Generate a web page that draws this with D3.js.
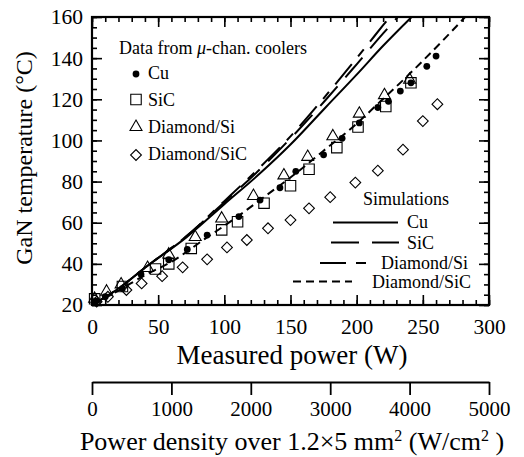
<!DOCTYPE html>
<html>
<head>
<meta charset="utf-8">
<script src="https://cdn.jsdelivr.net/npm/d3@7"></script>
<style>
  body { margin: 0; background: #fff; }
  svg { display: block; font-family: "Liberation Serif", "Times New Roman", serif; }
</style>
</head>
<body>
<div id="chart"></div>
<script>
// measured data (power W, GaN temperature C)
const cuData = [[3,22],[10,24],[23,28],[37,35],[58,42],[72,47],[87,54],[111,63],[127,71],[142,77],[154,85],[175,93],[189,101],[202,108.5],[216,116],[224,119],[233,124],[241,128],[253,136],[260,141]];
const sicData = [[2,23],[23,29],[48,37.5],[58,40],[75,47.5],[98,56.5],[110,60.5],[130,69.5],[150,78],[164,86],[185,96.5],[201,106.5],[222,116.5],[241,128]];
const diaSiData = [[2,23],[11,26.5],[22,30],[42,38],[58,44.5],[78,53],[98,62],[122,73],[145,83],[163,92],[182,102],[202,113],[221,122],[240,129.5]];
const diaSicData = [[3.5,21.6],[12,24],[26,27.3],[37.5,30.5],[53,34],[68.5,38.3],[87,42.2],[102,48],[117,51.6],[133,57.3],[150,61.3],[164,67],[180,72.4],[199,79.5],[216,85.3],[235,95.5],[250,109.4],[261,117.6]];

// simulation curves
const cuSim = [[0,20],[20,28],[41,38.6],[71.5,53],[100,69],[127,84],[150,98],[177,116.4],[200,132],[220,146],[241.5,160]];
const sicSim = [[0,20],[20,28],[41,38.6],[71.5,53.5],[100,70],[127,86],[150,101],[177,120],[200,137],[220,152],[231,160]];
const diaSiSim = [[0,20],[20,28],[41,38.6],[71.5,53.5],[100,70.5],[127,87],[150,102],[177,122],[200,140],[220,156],[225,160]];
const diaSicSim = [[0,20],[20,27],[40,34.5],[60,41],[85,52],[110,63],[130,72.5],[155,84.5],[175,95],[198,107],[218,119],[237,130.5],[252,140],[265,148.5],[282,160]];

const powerTicks = [0, 50, 100, 150, 200, 250, 300];
const tempTicks = [20, 40, 60, 80, 100, 120, 140, 160];
const densityTicks = [0, 1000, 2000, 3000, 4000, 5000];

const W = 524, H = 457;
const i1 = 92, i2 = 489, j1 = 17, j2 = 305;

const svg = d3.select("#chart").append("svg").attr("width", W).attr("height", H);

const x = d3.scaleLinear().domain([0, 300]).range([i1, i2]);
const y = d3.scaleLinear().domain([20, 160]).range([j2, j1]);
const xd = d3.scaleLinear().domain([0, 5000]).range([i1, i2]);

function styleAxis(g, fs) {
    g.select(".domain").remove();
    g.selectAll(".tick line").attr("stroke", "#000").attr("stroke-width", 1.6);
    g.selectAll("text").attr("fill", "#000").style("font-size", fs + "px")
        .style("font-family", "'Liberation Serif', serif");
}

// minor ticks
svg.append("g").attr("transform", "translate(0," + j2 + ")")
    .call(d3.axisBottom(x).tickValues(d3.range(0, 301, 10)).tickSize(-5).tickFormat(""))
    .call(g => styleAxis(g, 10));
svg.append("g").attr("transform", "translate(0," + j1 + ")")
    .call(d3.axisTop(x).tickValues(d3.range(0, 301, 10)).tickSize(-5).tickFormat(""))
    .call(g => styleAxis(g, 10));
svg.append("g").attr("transform", "translate(" + i1 + ",0)")
    .call(d3.axisLeft(y).tickValues(d3.range(20, 161, 5)).tickSize(-5).tickFormat(""))
    .call(g => styleAxis(g, 10));
svg.append("g").attr("transform", "translate(" + i2 + ",0)")
    .call(d3.axisRight(y).tickValues(d3.range(20, 161, 5)).tickSize(-5).tickFormat(""))
    .call(g => styleAxis(g, 10));

// major ticks
svg.append("g").attr("transform", "translate(0," + j2 + ")")
    .call(d3.axisBottom(x).tickValues(powerTicks).tickSize(-10).tickPadding(14).tickFormat(d3.format("d")))
    .call(g => styleAxis(g, 21.5));
svg.append("g").attr("transform", "translate(0," + j1 + ")")
    .call(d3.axisTop(x).tickValues(powerTicks).tickSize(-10).tickFormat(""))
    .call(g => styleAxis(g, 10));
svg.append("g").attr("transform", "translate(" + i1 + ",0)")
    .call(d3.axisLeft(y).tickValues(tempTicks).tickSize(-10).tickPadding(9).tickFormat(d3.format("d")))
    .call(g => styleAxis(g, 21.5));
svg.append("g").attr("transform", "translate(" + i2 + ",0)")
    .call(d3.axisRight(y).tickValues(tempTicks).tickSize(-10).tickFormat(""))
    .call(g => styleAxis(g, 10));

// frame
svg.append("rect").attr("x", i1).attr("y", j1).attr("width", i2 - i1).attr("height", j2 - j1)
    .attr("fill", "none").attr("stroke", "#000").attr("stroke-width", 2.2);

// simulation lines
const line = d3.line().x(d => x(d[0])).y(d => y(d[1])).curve(d3.curveMonotoneX);
const sims = [
    { name: "Cu", data: cuSim, dash: null },
    { name: "SiC", data: sicSim, dash: "26,12" },
    { name: "Diamond/Si", data: diaSiSim, dash: "26,10,9,10" },
    { name: "Diamond/SiC", data: diaSicSim, dash: "8,5" }
];
svg.append("clipPath").attr("id", "plotclip").append("rect")
    .attr("x", i1).attr("y", j1).attr("width", i2 - i1).attr("height", j2 - j1);
sims.forEach(s => {
    svg.append("path").attr("d", line(s.data)).attr("clip-path", "url(#plotclip)")
        .attr("fill", "none").attr("stroke", "#000").attr("stroke-width", 2)
        .attr("stroke-dasharray", s.dash);
});

// markers
const sq = d3.symbol().type(d3.symbolSquare).size(110);
const tri = d3.symbol().type(d3.symbolTriangle).size(62);
const dia = d3.symbol().type(d3.symbolSquare).size(58);

function drawPoints(data, kind) {
    const g = svg.append("g");
    data.forEach(p => {
        const px = x(p[0]), py = y(p[1]);
        if (kind === "dot") {
            g.append("circle").attr("cx", px).attr("cy", py).attr("r", 3.4).attr("fill", "#000");
        } else if (kind === "sq") {
            g.append("path").attr("d", sq()).attr("transform", "translate(" + px + "," + py + ")")
                .attr("fill", "none").attr("stroke", "#000").attr("stroke-width", 1.1);
        } else if (kind === "tri") {
            g.append("path").attr("d", tri()).attr("transform", "translate(" + px + "," + py + ")")
                .attr("fill", "none").attr("stroke", "#000").attr("stroke-width", 1.1);
        } else {
            g.append("path").attr("d", dia()).attr("transform", "translate(" + px + "," + py + ") rotate(45)")
                .attr("fill", "none").attr("stroke", "#000").attr("stroke-width", 1.1);
        }
    });
}
drawPoints(diaSicData, "dia");
drawPoints(sicData, "sq");
drawPoints(diaSiData, "tri");
drawPoints(cuData, "dot");

// data legend
svg.append("text").attr("x", 119).attr("y", 54).style("font-size", "18px")
    .html('Data from <tspan font-style="italic">μ</tspan>-chan. coolers');
const legData = [
    { name: "Cu", kind: "dot", y: 74, ty: 79 },
    { name: "SiC", kind: "sq", y: 99.5, ty: 105.5 },
    { name: "Diamond/Si", kind: "tri", y: 127, ty: 132.5 },
    { name: "Diamond/SiC", kind: "dia", y: 155, ty: 160 }
];
legData.forEach(l => {
    if (l.kind === "dot") {
        svg.append("circle").attr("cx", 136).attr("cy", l.y).attr("r", 3.4).attr("fill", "#000");
    } else {
        const sym = l.kind === "sq" ? sq : (l.kind === "tri" ? tri : dia);
        svg.append("path").attr("d", sym())
            .attr("transform", "translate(136," + l.y + ")" + (l.kind === "dia" ? " rotate(45)" : ""))
            .attr("fill", "none").attr("stroke", "#000").attr("stroke-width", 1.1);
    }
    svg.append("text").attr("x", 148).attr("y", l.ty).style("font-size", "18px").text(l.name);
});

// simulation legend
svg.append("text").attr("x", 363).attr("y", 205).style("font-size", "18px").text("Simulations");
const legSim = [
    { x1: 333, x2: 398, y: 222.5, tx: 407, ty: 228 },
    { x1: 331, x2: 399, y: 242.5, tx: 407, ty: 249 },
    { x1: 320, x2: 366, y: 263, tx: 381, ty: 268.5 },
    { x1: 293, x2: 352, y: 281.5, tx: 372, ty: 287.5 }
];
legSim.forEach((l, k) => {
    svg.append("line").attr("x1", l.x1).attr("x2", l.x2).attr("y1", l.y).attr("y2", l.y)
        .attr("stroke", "#000").attr("stroke-width", 2)
        .attr("stroke-dasharray", k === 1 ? "28,13" : (k === 2 ? "26,10,10,10" : sims[k].dash));
    svg.append("text").attr("x", l.tx).attr("y", l.ty).style("font-size", "18px").text(sims[k].name);
});

// axis titles
svg.append("text").attr("x", 292).attr("y", 364).attr("text-anchor", "middle")
    .style("font-size", "27px").text("Measured power (W)");
svg.append("text").attr("transform", "translate(32,158) rotate(-90)").attr("text-anchor", "middle")
    .style("font-size", "24px").text("GaN temperature (°C)");

// second axis: power density
const dens = svg.append("g").attr("transform", "translate(0,382)")
    .call(d3.axisBottom(xd).tickValues(densityTicks).tickSize(13).tickPadding(6).tickSizeOuter(0).tickFormat(d3.format("d")));
dens.select(".domain").attr("stroke", "#000").attr("stroke-width", 1.8);
dens.selectAll(".tick line").attr("stroke", "#000").attr("stroke-width", 1.8);
dens.selectAll("text").attr("fill", "#000").style("font-size", "21px")
    .style("font-family", "'Liberation Serif', serif");

svg.append("text").attr("x", 292).attr("y", 450).attr("text-anchor", "middle")
    .style("font-size", "26px")
    .html('Power density over 1.2×5 mm<tspan dy="-9" font-size="16px">2</tspan><tspan dy="9"> (W/cm</tspan><tspan dy="-9" font-size="16px">2</tspan><tspan dy="9"> )</tspan>');
</script>
</body>
</html>
